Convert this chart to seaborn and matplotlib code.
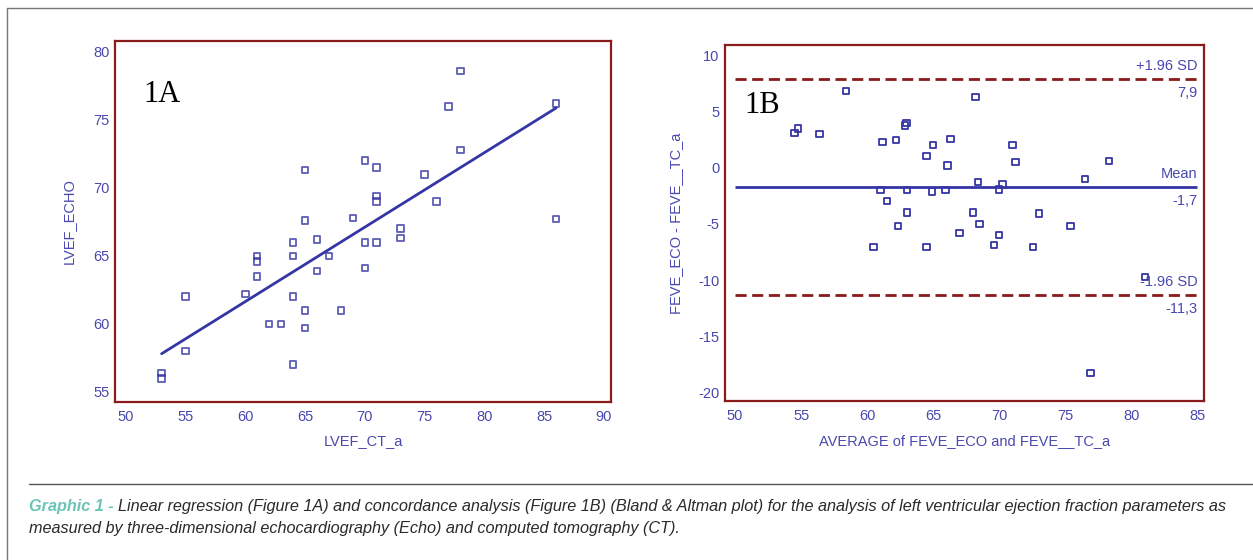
import numpy as np
import pandas as pd
import matplotlib
matplotlib.use("Agg")
import matplotlib.pyplot as plt
from matplotlib.lines import Line2D
import seaborn as sns

# ---------------- data ----------------
lvef_ct = [53, 53, 55, 55, 60, 62, 63, 61, 61, 61, 64, 64, 64, 64, 65, 65, 66, 66, 67, 68,
           70, 70, 71, 73, 73, 70, 71, 71, 71, 75, 76, 78, 77, 78, 86, 86, 65, 65, 69]
lvef_echo = [56.4, 56.0, 62.0, 58.0, 62.2, 60.0, 60.0, 65.0, 64.6, 63.5, 66.0, 65.0, 62.0, 57.0,
             61.0, 59.7, 66.2, 63.9, 65.0, 61.0, 66.0, 64.1, 66.0, 67.0, 66.3, 72.0, 71.5, 69.4,
             69.0, 71.0, 69.0, 78.6, 76.0, 72.8, 76.2, 67.7, 71.3, 67.6, 67.8]

ba_mean = [54.5, 54.75, 56.4, 58.4, 61.15, 62.2, 62.87, 62.97, 64.5, 65.0, 66.3, 66.1, 68.2,
           68.4, 61.0, 61.5, 63.0, 64.9, 65.95, 63.0, 62.35, 67.0, 68.0, 68.5, 71.0, 71.25,
           78.3, 76.5, 70.0, 70.25, 73.0, 75.4, 70.0, 69.6, 72.55, 81.05, 76.9, 60.5, 64.5]
ba_diff = [3.1, 3.5, 3.0, 6.8, 2.3, 2.45, 3.73, 3.97, 1.05, 2.0, 2.55, 0.2, 6.3,
           -1.25, -2.0, -2.95, -2.0, -2.1, -2.0, -4.0, -5.2, -5.8, -4.0, -5.0, 2.0, 0.5,
           0.6, -1.0, -1.95, -1.5, -4.05, -5.2, -6.0, -6.85, -7.05, -9.7, -18.25, -7.05, -7.05]

mean_bias = -1.7
upper_loa = 7.9
lower_loa = -11.3
loa_labels = ["+1.96 SD", "Mean", "-1.96 SD"]
loa_values = ["7,9", "-1,7", "-11,3"]

left_xticks = [50, 55, 60, 65, 70, 75, 80, 85, 90]
left_yticks = [55, 60, 65, 70, 75, 80]
right_xticks = [50, 55, 60, 65, 70, 75, 80, 85]
right_yticks = [-20, -15, -10, -5, 0, 5, 10]

caption_head = "Graphic 1 - "
caption_line1 = ("Linear regression (Figure 1A) and concordance analysis (Figure 1B) (Bland & Altman plot) "
                 "for the analysis of left ventricular ejection fraction parameters as")
caption_line2 = "measured by three-dimensional echocardiography (Echo) and computed tomography (CT)."

# ---------------- style ----------------
sns.set_style("white")
plt.rcParams['font.family'] = ['Liberation Sans', 'DejaVu Sans']
plt.rcParams['axes.unicode_minus'] = False

BLUE = "#3535a5"
TXT_BLUE = "#4848b0"
RED = "#8b1a1a"

df_a = pd.DataFrame({"LVEF_CT_a": lvef_ct, "LVEF_ECHO": lvef_echo})
df_b = pd.DataFrame({"avg": ba_mean, "diff": ba_diff})

W, H = 1253, 560
fig = plt.figure(figsize=(W / 100, H / 100), dpi=100)
fig.patch.set_facecolor("white")

ax1 = fig.add_axes([115 / W, 1 - 402 / H, 496 / W, 361 / H])
ax2 = fig.add_axes([725 / W, 1 - 400.7 / H, 479 / W, 355.7 / H])


def style_axes(ax):
    for s in ax.spines.values():
        s.set_visible(True)
        s.set_color(RED)
        s.set_linewidth(1.6)
    ax.tick_params(axis="both", direction="in", length=7, width=1.3, color=RED,
                   labelcolor=TXT_BLUE, labelsize=10.5)
    ax.tick_params(axis="x", pad=6)
    ax.tick_params(axis="y", pad=4)
    ax.grid(False)
    ax.set_facecolor("white")


# ---- Panel 1A ----
sns.regplot(data=df_a, x="LVEF_CT_a", y="LVEF_ECHO", ax=ax1, ci=None, marker="s",
            scatter_kws=dict(facecolors="none", edgecolors=BLUE, s=22, linewidths=1.3),
            line_kws=dict(color=BLUE, lw=2))
ax1.set_xlim(49.1, 90.6)
ax1.set_ylim(54.26, 80.8)
ax1.set_xticks(left_xticks)
ax1.set_yticks(left_yticks)
style_axes(ax1)
ax1.set_xlabel("LVEF_CT_a", color=TXT_BLUE, fontsize=10.5)
ax1.set_ylabel("LVEF_ECHO", color=TXT_BLUE, fontsize=10.5)
ax1.xaxis.set_label_coords(0.5, (402 - 434) / 361)
ax1.yaxis.set_label_coords((76 - 115) / 496, 0.5)
ax1.text(143 / W, 1 - 102 / H, "1A", transform=fig.transFigure, family="Liberation Serif",
         fontsize=22, color="black", ha="left", va="baseline")

# ---- Panel 1B ----
sns.scatterplot(data=df_b, x="avg", y="diff", ax=ax2, marker="s", s=22,
                facecolors="none", edgecolor=BLUE, linewidth=1.3)
ax2.hlines([upper_loa, lower_loa], 50, 85, colors=RED, linestyles=(0, (4, 2)), lw=2)
ax2.hlines([mean_bias], 50, 85, colors=BLUE, lw=2)
for lab, val, yv in zip(loa_labels, loa_values, [upper_loa, mean_bias, lower_loa]):
    ax2.annotate(lab, (85, yv), xytext=(0, 4), textcoords="offset points", ha="right",
                 va="bottom", color=TXT_BLUE, fontsize=10.5)
    ax2.annotate(val, (85, yv), xytext=(0, -5), textcoords="offset points", ha="right",
                 va="top", color=TXT_BLUE, fontsize=10.5)
ax2.set_xlim(49.24, 85.5)
ax2.set_ylim(-20.7, 10.9)
ax2.set_xticks(right_xticks)
ax2.set_yticks(right_yticks)
style_axes(ax2)
ax2.set_xlabel("AVERAGE of FEVE_ECO and FEVE__TC_a", color=TXT_BLUE, fontsize=10.5)
ax2.set_ylabel("FEVE_ECO - FEVE__TC_a", color=TXT_BLUE, fontsize=10.5)
ax2.xaxis.set_label_coords(0.5, (400.7 - 434) / 355.7)
ax2.yaxis.set_label_coords((683 - 725) / 479, 0.5)
ax2.text(744 / W, 1 - 113 / H, "1B", transform=fig.transFigure, family="Liberation Serif",
         fontsize=22, color="black", ha="left", va="baseline")

# ---- frame, separator, caption ----
fig.add_artist(Line2D([7 / W, 7 / W], [0, 1 - 8 / H], transform=fig.transFigure, color="#777777", lw=1))
fig.add_artist(Line2D([7 / W, 1], [1 - 8 / H, 1 - 8 / H], transform=fig.transFigure, color="#777777", lw=1))
fig.add_artist(Line2D([29 / W, 1], [1 - 484 / H, 1 - 484 / H], transform=fig.transFigure, color="#555555", lw=1))

cap_size = 11.7
t_head = fig.text(29 / W, 1 - 506 / H, caption_head, color="#6cc4b6", fontsize=cap_size,
                  fontweight="bold", style="italic", va="center", ha="left")
fig.canvas.draw()
bb = t_head.get_window_extent()
fig.text(bb.x1 / W, 1 - 506 / H, caption_line1, color="#2a2a2a", fontsize=cap_size,
         style="italic", va="center", ha="left")
fig.text(29 / W, 1 - 529 / H, caption_line2, color="#2a2a2a", fontsize=cap_size,
         style="italic", va="center", ha="left")

fig.savefig("out.png", dpi=100, facecolor="white")
